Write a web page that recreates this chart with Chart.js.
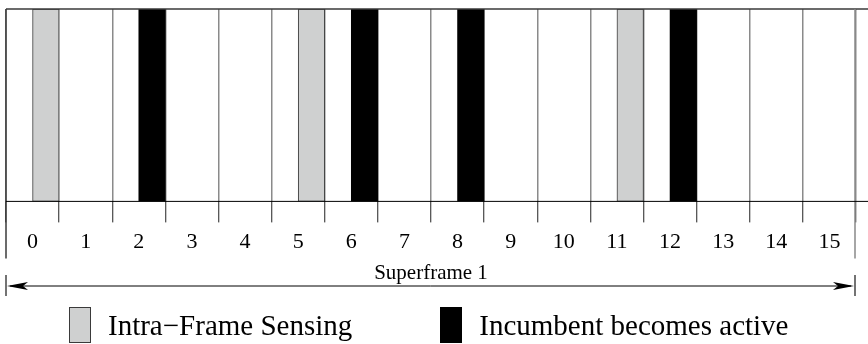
<!DOCTYPE html>
<html>
<head>
<meta charset="utf-8">
<script src="https://cdn.jsdelivr.net/npm/chart.js@4.4.0/dist/chart.umd.min.js"></script>
<style>
  body { margin: 0; background: #fff; }
  #wrap { position: relative; width: 868px; height: 344px; }
  #chart { position: absolute; left: 0; top: 0; }
  #legend { position: absolute; left: 69px; top: 307px; display: flex;
            font-family: 'Liberation Serif', 'Times New Roman', serif; font-size: 29px;
            line-height: 36px; color: #000; white-space: nowrap; }
  .item { display: flex; align-items: center; margin-right: 88px; }
  .box { width: 22px; height: 36px; box-sizing: border-box; margin-right: 17px; }
</style>
</head>
<body>
<div id="wrap">
  <canvas id="chart" width="868" height="344"></canvas>
  <div id="legend"></div>
</div>
<script>
// slots of one superframe and which slots carry each event
const slots = ['0', '1', '2', '3', '4', '5', '6', '7', '8', '9', '10', '11', '12', '13', '14', '15'];
const sensingSlots = [0, 5, 11];
const incumbentSlots = [2, 6, 8, 12];
const seriesNames = ['Intra−Frame Sensing', 'Incumbent becomes active'];
const frameTitle = 'Superframe 1';

const serif = "'Liberation Serif', 'Times New Roman', serif";

// 1 where the event happens in the slot, nothing elsewhere
const sensing = slots.map((s, i) => sensingSlots.includes(i) ? 1 : null);
const incumbent = slots.map((s, i) => incumbentSlots.includes(i) ? 1 : null);
const spacer = slots.map(() => 0);

// frame borders, the long axis line and the superframe arrow
const frameLines = {
  id: 'frameLines',
  afterDatasetsDraw(chart) {
    const {ctx, chartArea: a, width} = chart;
    const xs = chart.scales.x;
    const seg = (x1, y1, x2, y2) => { ctx.beginPath(); ctx.moveTo(x1, y1); ctx.lineTo(x2, y2); ctx.stroke(); };
    ctx.save();
    ctx.strokeStyle = '#3a3a3a'; ctx.lineWidth = 1.5;
    seg(a.left, a.top, width, a.top);
    seg(a.left, a.top, a.left, a.bottom + 57);
    ctx.strokeStyle = '#888'; ctx.lineWidth = 1.5;
    seg(a.right - 1, a.top, a.right - 1, a.bottom + 57);
    ctx.strokeStyle = '#000'; ctx.lineWidth = 1;
    seg(a.left, a.bottom, width, a.bottom);

    const ay = xs.bottom;
    const x1 = a.left, x2 = a.right - 1;
    ctx.strokeStyle = '#000'; ctx.lineWidth = 1;
    seg(x1 + 4, ay, x2 - 4, ay);
    ctx.strokeStyle = '#444'; ctx.lineWidth = 1.5;
    seg(x1, ay - 11, x1, ay + 10);
    seg(x2, ay - 11, x2, ay + 10);
    ctx.fillStyle = '#000';
    ctx.beginPath();
    ctx.moveTo(x1 + 1, ay); ctx.lineTo(x1 + 22, ay - 4); ctx.lineTo(x1 + 17, ay); ctx.lineTo(x1 + 22, ay + 4);
    ctx.closePath(); ctx.fill();
    ctx.beginPath();
    ctx.moveTo(x2 - 1, ay); ctx.lineTo(x2 - 22, ay - 4); ctx.lineTo(x2 - 17, ay); ctx.lineTo(x2 - 22, ay + 4);
    ctx.closePath(); ctx.fill();
    ctx.restore();
  }
};

const chart = new Chart(document.getElementById('chart'), {
  type: 'bar',
  data: {
    labels: slots,
    datasets: [
      { data: spacer, stack: 'a', backgroundColor: 'rgba(0,0,0,0)', borderWidth: 0 },
      { label: seriesNames[0], data: sensing, stack: 'b', backgroundColor: '#cfd0d0',
        borderColor: '#3a3a3a', borderWidth: 1, borderSkipped: false },
      { label: seriesNames[1], data: incumbent, stack: 'b', backgroundColor: '#000',
        borderColor: '#000', borderWidth: 0 }
    ]
  },
  options: {
    responsive: false,
    animation: false,
    devicePixelRatio: 1,
    categoryPercentage: 1,
    barPercentage: 1,
    layout: { padding: { top: 9, left: 6, right: 12, bottom: 58 } },
    plugins: { legend: { display: false }, tooltip: { enabled: false } },
    scales: {
      x: {
        stacked: true,
        offset: true,
        grid: { offset: true, color: '#8a8a8a', lineWidth: 1.5, tickColor: '#222', tickWidth: 1, tickLength: 21 },
        border: { display: false },
        ticks: { autoSkip: false, maxRotation: 0, padding: 7, color: '#000', font: { family: serif, size: 22 } },
        title: { display: true, text: frameTitle, color: '#000', font: { family: serif, size: 21 },
                 padding: { top: -2, bottom: 0 } }
      },
      y: { stacked: true, display: false, min: 0, max: 1 }
    }
  },
  plugins: [frameLines]
});

// legend built from the chart's own datasets
const legendEl = document.getElementById('legend');
chart.data.datasets.filter(d => d.label).forEach(d => {
  const item = document.createElement('div');
  item.className = 'item';
  const box = document.createElement('span');
  box.className = 'box';
  box.style.background = d.backgroundColor;
  box.style.border = '1px solid ' + (d.borderWidth ? d.borderColor : d.backgroundColor);
  const txt = document.createElement('span');
  txt.textContent = d.label;
  item.appendChild(box);
  item.appendChild(txt);
  legendEl.appendChild(item);
});
</script>
</body>
</html>
